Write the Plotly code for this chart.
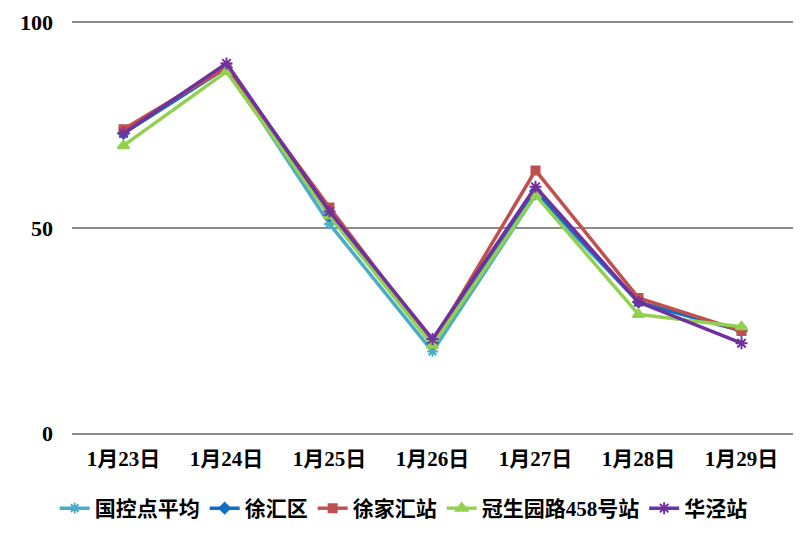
import plotly.graph_objects as go

categories = ["1月23日", "1月24日", "1月25日", "1月26日", "1月27日", "1月28日", "1月29日"]
guokong = [73, 89, 51, 20, 58, 32, 25]
xuhui_qu = [73, 89, 53, 22, 59, 32, 25]
xujiahui = [74, 89, 55, 22, 64, 33, 25]
guanshengyuan = [70, 88, 53, 21.5, 58, 29, 26]
huajing = [73, 90, 54, 23, 60, 32, 22]

series = [
    ("国控点平均", guokong, "#4BACC6", "asterisk-open", 9),
    ("徐汇区", xuhui_qu, "#0F6FC0", "diamond", 8),
    ("徐家汇站", xujiahui, "#C0504D", "square", 8),
    ("冠生园路458号站", guanshengyuan, "#92D050", "triangle-up", 10),
    ("华泾站", huajing, "#7030A0", "asterisk-open", 10),
]

font_family = "Liberation Serif, Noto Sans CJK SC, serif"

def f(size):
    return dict(family=font_family, size=size, color="black", weight="bold")

fig = go.Figure()
for name, vals, color, sym, size in series:
    fig.add_trace(go.Scatter(
        x=categories, y=vals, name=name, mode="lines+markers",
        line=dict(color=color, width=3.5),
        marker=dict(symbol=sym, size=size, color=color,
                    line=dict(color=color, width=2)),
    ))

fig.update_layout(
    width=801, height=529,
    margin=dict(l=64, r=16, t=13, b=102, autoexpand=False),
    plot_bgcolor="white", paper_bgcolor="white",
    font=f(21),
    showlegend=True,
    legend=dict(orientation="h", x=0.46, xanchor="center", y=-0.128, yanchor="top",
                font=f(21), itemwidth=30, tracegroupgap=0),
    xaxis=dict(type="category", showgrid=False, zeroline=False, showline=False,
               ticks="", tickfont=f(21), ticklabelstandoff=9,
               range=[-0.5, 6.5], automargin=False),
    yaxis=dict(range=[-0.3, 100.3], tickvals=[0, 50, 100], showgrid=True,
               gridcolor="#8C8C8C", gridwidth=1.5, zeroline=False, showline=False,
               ticks="", ticklabelstandoff=18, tickfont=f(22), automargin=False),
)

fig.write_html("out.html")
